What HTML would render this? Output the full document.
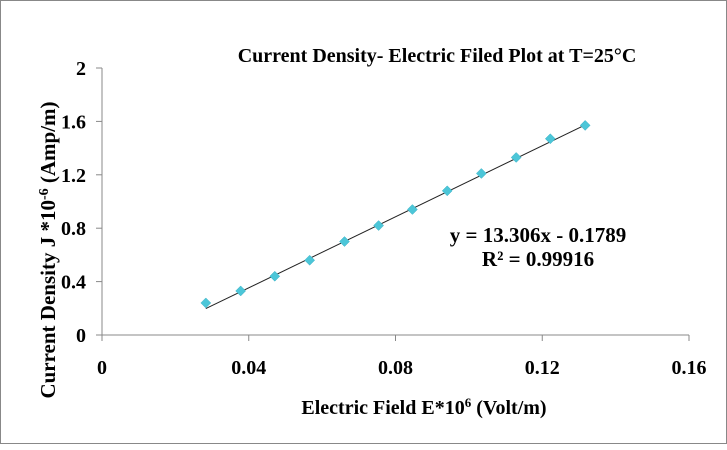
<!DOCTYPE html>
<html><head><meta charset="utf-8"><style>
body{margin:0;background:#fff}
svg text{font-family:"Liberation Serif",serif;font-weight:bold;fill:#000}
</style></head><body>
<svg id="c" width="727" height="445">
<rect x="0.5" y="0.5" width="726" height="443" fill="#fff" stroke="#888"/>
<text x="437" y="62" font-size="20" text-anchor="middle">Current Density- Electric Filed Plot at T=25°C</text>
<text x="424" y="414" font-size="20" text-anchor="middle">Electric Field E*10<tspan font-size="13" dy="-7">6</tspan><tspan dy="7"> (Volt/m)</tspan></text>
<text transform="translate(55,250) rotate(-90)" font-size="21" text-anchor="middle">Current Density J *10<tspan font-size="14" dy="-7">-6</tspan><tspan dy="7"> (Amp/m)</tspan></text>
<text x="538" y="242" font-size="21" text-anchor="middle">y = 13.306x - 0.1789</text>
<text x="538" y="266" font-size="21" text-anchor="middle">R² = 0.99916</text>
<g id="g"></g>
</svg>
<script>
const xVals=[0.0283,0.0378,0.0471,0.0566,0.0661,0.0754,0.0846,0.0941,0.1034,0.1129,0.1222,0.1317];
const yVals=[0.24,0.33,0.44,0.56,0.70,0.82,0.94,1.08,1.21,1.33,1.47,1.57];
const xTicks=[0,0.04,0.08,0.12,0.16];
const xTickLabels=["0","0.04","0.08","0.12","0.16"];
const yTicks=[0,0.4,0.8,1.2,1.6,2];
const yTickLabels=["0","0.4","0.8","1.2","1.6","2"];
const slope=13.306, intercept=-0.1789;
const X=v=>102+v/0.16*587, Y=v=>335-v/2*267;
const g=document.getElementById('g'),NS='http://www.w3.org/2000/svg';
function mk(t,a,txt){const e=document.createElementNS(NS,t);for(const k in a)e.setAttribute(k,a[k]);if(txt!=null)e.textContent=txt;g.appendChild(e);return e;}
let e=mk('line',{x1:X(0),y1:Y(0),x2:X(0.16),y2:Y(0),stroke:'#888'});


e=mk('line',{x1:X(0),y1:Y(0),x2:X(0),y2:Y(2),stroke:'#888'});


xTicks.forEach((t,i)=>{
 e=mk('line',{x1:X(t),y1:Y(0),x2:X(t),y2:Y(0)+6,stroke:'#888'});
 
 
 e=mk('text',{x:X(t),y:374,'font-size':20,'text-anchor':'middle'},xTickLabels[i]);
 
 
});
yTicks.forEach((t,i)=>{
 e=mk('line',{x1:X(0)-6,y1:Y(t),x2:X(0),y2:Y(t),stroke:'#888'});
 
 
 e=mk('text',{x:X(0)-16,y:Y(t)+7,'font-size':20,'text-anchor':'end'},yTickLabels[i]);
 
 
});
const x0=xVals[0],x1=xVals[xVals.length-1];
e=mk('line',{x1:X(x0),y1:Y(slope*x0+intercept),x2:X(x1),y2:Y(slope*x1+intercept),stroke:'#222','stroke-width':1});


xVals.forEach((v,i)=>{
 const cx=X(v),cy=Y(yVals[i]);
 e=mk('polygon',{points:`${cx},${cy-5} ${cx+5},${cy} ${cx},${cy+5} ${cx-5},${cy}`,fill:'#4cc6d8',stroke:'#3ab0c4','stroke-width':0.5});
 
 
});
</script>
</body></html>
